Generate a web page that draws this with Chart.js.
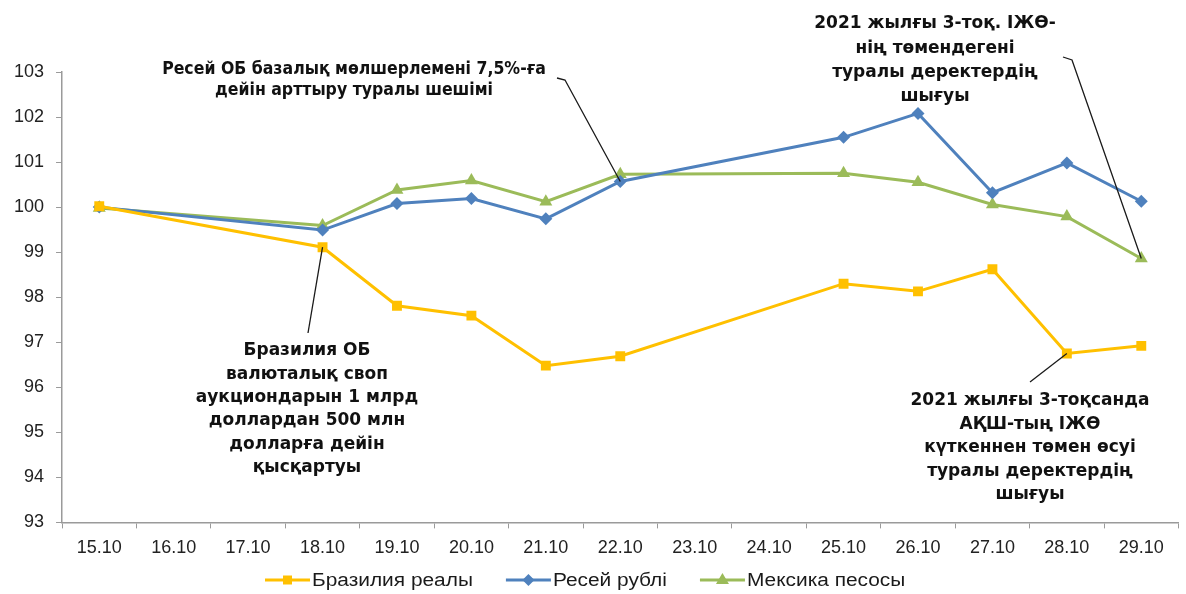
<!DOCTYPE html>
<html>
<head>
<meta charset="utf-8">
<script src="https://cdn.jsdelivr.net/npm/chart.js@4.4.1/dist/chart.umd.min.js"></script>
<style>
html,body{margin:0;padding:0;background:#fff;}
#wrap{width:1186px;height:594px;}
</style>
</head>
<body>
<div id="wrap"><canvas id="c" width="1186" height="594"></canvas></div>
<script>
const categories = ['15.10','16.10','17.10','18.10','19.10','20.10','21.10','22.10','23.10','24.10','25.10','26.10','27.10','28.10','29.10'];
const brazilReal = [100.02, null, null, 99.11, 97.81, 97.59, 96.48, 96.69, null, null, 98.30, 98.13, 98.62, 96.75, 96.92];
const russiaRuble = [100.0, null, null, 99.49, 100.08, 100.19, 99.74, 100.57, null, null, 101.55, 102.08, 100.32, 100.98, 100.13];
const mexicoPeso = [99.98, null, null, 99.59, 100.38, 100.59, 100.12, 100.73, null, null, 100.75, 100.55, 100.06, 99.79, 98.86];
const seriesNames = ['Бразилия реалы', 'Ресей рублі', 'Мексика песосы'];
const yTicks = [93,94,95,96,97,98,99,100,101,102,103];

const colors = ['#FFC000', '#4F81BD', '#9BBB59'];
const styles = ['rect', 'rectRot', 'triangle'];
const radii = [7, 6.5, 7.5];
const seriesData = [brazilReal, russiaRuble, mexicoPeso];

const FONT = '"Liberation Sans", Arial, sans-serif';
const NOTE_FONT = 'bold 17px "DejaVu Sans", Verdana, sans-serif';
const NOTE_FONT_COND = 'bold 17.5px "DejaVu Sans Condensed", "DejaVu Sans", sans-serif';

const annotations = [
  { lines: ['Бразилия ОБ','валюталық своп','аукциондарын 1 млрд','доллардан 500 млн','долларға дейін','қысқартуы'],
    font: NOTE_FONT, cx: 307, y0: 351, lh: 23.3, series: 0, idx: 3, path: [[308,333]] },
  { lines: ['Ресей ОБ базалық мөлшерлемені 7,5%-ға','дейін арттыру туралы шешімі'],
    font: NOTE_FONT_COND, cx: 354, y0: 69, lh: 21.5, series: 1, idx: 7, path: [[557,78],[565,80]] },
  { lines: ['2021 жылғы 3-тоқ. ІЖӨ-','нің төмендегені','туралы деректердің','шығуы'],
    font: NOTE_FONT, cx: 935, y0: 24, lh: 24.3, series: 2, idx: 14, path: [[1063,57],[1072,60]] },
  { lines: ['2021 жылғы 3-тоқсанда','АҚШ-тың ІЖӨ','күткеннен төмен өсуі','туралы деректердің','шығуы'],
    font: NOTE_FONT, cx: 1030, y0: 401, lh: 23.5, series: 0, idx: 13, path: [[1030,382]] }
];

function drawMarker(c, style, x, y, color) {
  c.fillStyle = color;
  c.beginPath();
  if (style === 'rect') { c.rect(x - 4.5, y - 4.5, 9, 9); }
  else if (style === 'rectRot') { c.moveTo(x, y - 6); c.lineTo(x + 6, y); c.lineTo(x, y + 6); c.lineTo(x - 6, y); c.closePath(); }
  else { c.moveTo(x, y - 7); c.lineTo(x + 6.5, y + 4); c.lineTo(x - 6.5, y + 4); c.closePath(); }
  c.fill();
}

const notesAndLegend = {
  id: 'notesAndLegend',
  afterDatasetsDraw(chart) {
    const ctx = chart.ctx;
    const xs = chart.scales.x, ys = chart.scales.y;
    ctx.save();
    annotations.forEach(a => {
      const px = xs.getPixelForValue(a.idx);
      const py = ys.getPixelForValue(seriesData[a.series][a.idx]);
      ctx.strokeStyle = '#1a1a1a'; ctx.lineWidth = 1.3;
      ctx.beginPath();
      ctx.moveTo(a.path[0][0], a.path[0][1]);
      for (let i = 1; i < a.path.length; i++) ctx.lineTo(a.path[i][0], a.path[i][1]);
      ctx.lineTo(px, py);
      ctx.stroke();
      ctx.fillStyle = '#111';
      ctx.font = a.font;
      ctx.textAlign = 'center'; ctx.textBaseline = 'middle';
      a.lines.forEach((t, i) => ctx.fillText(t, a.cx, a.y0 + i * a.lh));
    });
    // legend
    ctx.font = '18px ' + FONT;
    const stretch = 1.16;
    const iconW = 45, iconGap = 2, itemGap = 33, ly = 580;
    let x = 265;
    seriesNames.forEach((n, i) => {
      ctx.strokeStyle = colors[i]; ctx.lineWidth = 3;
      ctx.beginPath(); ctx.moveTo(x, ly); ctx.lineTo(x + iconW, ly); ctx.stroke();
      drawMarker(ctx, styles[i], x + iconW / 2, ly, colors[i]);
      const tx = x + iconW + iconGap;
      const tw = ctx.measureText(n).width * stretch;
      ctx.save();
      ctx.translate(tx, ly + 1);
      ctx.scale(stretch, 1);
      ctx.fillStyle = '#1a1a1a'; ctx.textAlign = 'left'; ctx.textBaseline = 'middle';
      ctx.fillText(n, 0, 0);
      ctx.restore();
      x = tx + tw + itemGap;
    });
    ctx.restore();
  }
};

new Chart(document.getElementById('c'), {
  type: 'line',
  data: {
    labels: categories,
    datasets: seriesNames.map((n, i) => ({
      label: n,
      data: seriesData[i],
      borderColor: colors[i],
      backgroundColor: colors[i],
      borderWidth: 3,
      pointStyle: styles[i],
      pointRadius: radii[i],
      pointBorderWidth: 0,
      pointBackgroundColor: colors[i],
      spanGaps: true,
      tension: 0
    }))
  },
  options: {
    responsive: false,
    animation: false,
    devicePixelRatio: 1,
    layout: { padding: { top: 72, right: 0, left: 2, bottom: 26 } },
    plugins: {
      tooltip: { enabled: false },
      legend: { display: false }
    },
    scales: {
      x: {
        offset: true,
        grid: { offset: true, drawOnChartArea: false, drawTicks: true, tickLength: 6, color: '#9a9a9a' },
        border: { color: '#9a9a9a', width: 1.5 },
        ticks: { color: '#222', font: { family: FONT, size: 18 }, padding: 9, maxRotation: 0, autoSkip: false }
      },
      y: {
        min: 93, max: 103,
        afterBuildTicks(scale) { scale.ticks = yTicks.map(v => ({ value: v })); },
        grid: { drawOnChartArea: false, drawTicks: true, tickLength: 6, color: '#9a9a9a' },
        border: { color: '#9a9a9a', width: 1.5 },
        ticks: { color: '#222', font: { family: FONT, size: 18 }, padding: 12 }
      }
    }
  },
  plugins: [notesAndLegend]
});
</script>
</body>
</html>
